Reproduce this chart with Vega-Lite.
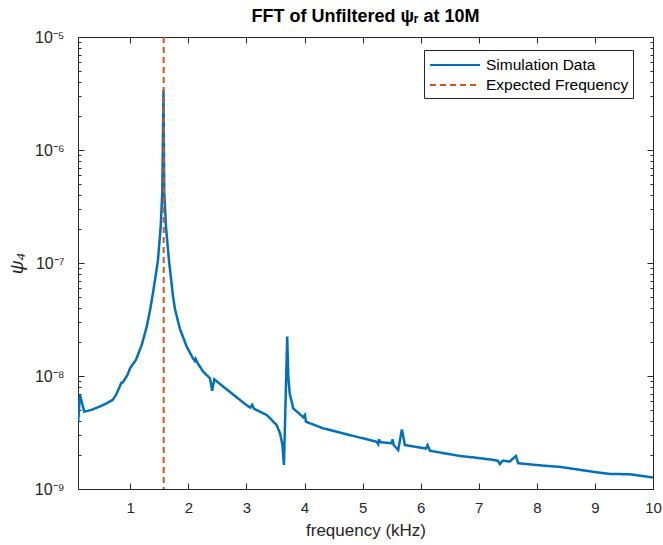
{
  "$schema": "https://vega.github.io/schema/vega-lite/v6.json",
  "width": 575,
  "height": 452,
  "autosize": {"type": "none"},
  "padding": {"left": 78, "top": 37, "right": 10, "bottom": 56},
  "background": "white",
  "title": {"text": "FFT of Unfiltered ψᵣ at 10M", "fontSize": 18, "fontWeight": "bold", "color": "#000000", "anchor": "middle", "offset": 3, "font": "Liberation Sans"},
  "datasets": {
    "sim": [
      {"f": 0.1, "v": 4.1e-9, "series": "Simulation Data"},
      {"f": 0.105, "v": 4.08e-9, "series": "Simulation Data"},
      {"f": 0.134, "v": 6.79e-9, "series": "Simulation Data"},
      {"f": 0.208, "v": 4.83e-9, "series": "Simulation Data"},
      {"f": 0.33, "v": 5.01e-9, "series": "Simulation Data"},
      {"f": 0.467, "v": 5.35e-9, "series": "Simulation Data"},
      {"f": 0.58, "v": 5.69e-9, "series": "Simulation Data"},
      {"f": 0.697, "v": 6.14e-9, "series": "Simulation Data"},
      {"f": 0.754, "v": 6.79e-9, "series": "Simulation Data"},
      {"f": 0.82, "v": 8.1e-9, "series": "Simulation Data"},
      {"f": 0.845, "v": 8.7e-9, "series": "Simulation Data"},
      {"f": 0.87, "v": 8.75e-9, "series": "Simulation Data"},
      {"f": 0.95, "v": 1.02e-8, "series": "Simulation Data"},
      {"f": 1.0, "v": 1.18e-8, "series": "Simulation Data"},
      {"f": 1.098, "v": 1.39e-8, "series": "Simulation Data"},
      {"f": 1.2, "v": 1.9e-8, "series": "Simulation Data"},
      {"f": 1.282, "v": 2.72e-8, "series": "Simulation Data"},
      {"f": 1.34, "v": 3.8e-8, "series": "Simulation Data"},
      {"f": 1.391, "v": 5.43e-8, "series": "Simulation Data"},
      {"f": 1.44, "v": 7.9e-8, "series": "Simulation Data"},
      {"f": 1.477, "v": 1.06e-7, "series": "Simulation Data"},
      {"f": 1.523, "v": 2.08e-7, "series": "Simulation Data"},
      {"f": 1.551, "v": 4.16e-7, "series": "Simulation Data"},
      {"f": 1.572, "v": 3.4e-6, "series": "Simulation Data"},
      {"f": 1.585, "v": 4.2e-7, "series": "Simulation Data"},
      {"f": 1.615, "v": 2.08e-7, "series": "Simulation Data"},
      {"f": 1.666, "v": 1.06e-7, "series": "Simulation Data"},
      {"f": 1.735, "v": 5.1e-8, "series": "Simulation Data"},
      {"f": 1.77, "v": 3.9e-8, "series": "Simulation Data"},
      {"f": 1.856, "v": 2.6e-8, "series": "Simulation Data"},
      {"f": 1.971, "v": 1.82e-8, "series": "Simulation Data"},
      {"f": 2.08, "v": 1.43e-8, "series": "Simulation Data"},
      {"f": 2.11, "v": 1.36e-8, "series": "Simulation Data"},
      {"f": 2.125, "v": 1.42e-8, "series": "Simulation Data"},
      {"f": 2.16, "v": 1.3e-8, "series": "Simulation Data"},
      {"f": 2.257, "v": 1.09e-8, "series": "Simulation Data"},
      {"f": 2.372, "v": 9.55e-9, "series": "Simulation Data"},
      {"f": 2.411, "v": 7.41e-9, "series": "Simulation Data"},
      {"f": 2.446, "v": 9.35e-9, "series": "Simulation Data"},
      {"f": 2.659, "v": 7.62e-9, "series": "Simulation Data"},
      {"f": 2.97, "v": 5.69e-9, "series": "Simulation Data"},
      {"f": 3.02, "v": 5.43e-9, "series": "Simulation Data"},
      {"f": 3.07, "v": 5.25e-9, "series": "Simulation Data"},
      {"f": 3.1, "v": 5.56e-9, "series": "Simulation Data"},
      {"f": 3.13, "v": 5.13e-9, "series": "Simulation Data"},
      {"f": 3.348, "v": 4.52e-9, "series": "Simulation Data"},
      {"f": 3.405, "v": 4.23e-9, "series": "Simulation Data"},
      {"f": 3.52, "v": 3.68e-9, "series": "Simulation Data"},
      {"f": 3.58, "v": 3.1e-9, "series": "Simulation Data"},
      {"f": 3.62, "v": 2.45e-9, "series": "Simulation Data"},
      {"f": 3.646, "v": 1.63e-9, "series": "Simulation Data"},
      {"f": 3.702, "v": 2.23e-8, "series": "Simulation Data"},
      {"f": 3.72, "v": 1.0e-8, "series": "Simulation Data"},
      {"f": 3.745, "v": 7.0e-9, "series": "Simulation Data"},
      {"f": 3.806, "v": 5.18e-9, "series": "Simulation Data"},
      {"f": 3.978, "v": 4.31e-9, "series": "Simulation Data"},
      {"f": 4.007, "v": 4.52e-9, "series": "Simulation Data"},
      {"f": 4.024, "v": 3.94e-9, "series": "Simulation Data"},
      {"f": 4.322, "v": 3.44e-9, "series": "Simulation Data"},
      {"f": 4.897, "v": 2.9e-9, "series": "Simulation Data"},
      {"f": 5.241, "v": 2.62e-9, "series": "Simulation Data"},
      {"f": 5.269, "v": 2.49e-9, "series": "Simulation Data"},
      {"f": 5.286, "v": 2.75e-9, "series": "Simulation Data"},
      {"f": 5.3, "v": 2.6e-9, "series": "Simulation Data"},
      {"f": 5.499, "v": 2.54e-9, "series": "Simulation Data"},
      {"f": 5.517, "v": 2.75e-9, "series": "Simulation Data"},
      {"f": 5.535, "v": 2.45e-9, "series": "Simulation Data"},
      {"f": 5.613, "v": 2.21e-9, "series": "Simulation Data"},
      {"f": 5.677, "v": 3.37e-9, "series": "Simulation Data"},
      {"f": 5.728, "v": 2.45e-9, "series": "Simulation Data"},
      {"f": 6.09, "v": 2.28e-9, "series": "Simulation Data"},
      {"f": 6.12, "v": 2.45e-9, "series": "Simulation Data"},
      {"f": 6.158, "v": 2.18e-9, "series": "Simulation Data"},
      {"f": 6.675, "v": 1.96e-9, "series": "Simulation Data"},
      {"f": 6.962, "v": 1.89e-9, "series": "Simulation Data"},
      {"f": 7.248, "v": 1.81e-9, "series": "Simulation Data"},
      {"f": 7.33, "v": 1.78e-9, "series": "Simulation Data"},
      {"f": 7.363, "v": 1.66e-9, "series": "Simulation Data"},
      {"f": 7.41, "v": 1.78e-9, "series": "Simulation Data"},
      {"f": 7.535, "v": 1.75e-9, "series": "Simulation Data"},
      {"f": 7.639, "v": 1.96e-9, "series": "Simulation Data"},
      {"f": 7.679, "v": 1.69e-9, "series": "Simulation Data"},
      {"f": 8.109, "v": 1.61e-9, "series": "Simulation Data"},
      {"f": 8.396, "v": 1.57e-9, "series": "Simulation Data"},
      {"f": 8.969, "v": 1.42e-9, "series": "Simulation Data"},
      {"f": 9.256, "v": 1.36e-9, "series": "Simulation Data"},
      {"f": 9.601, "v": 1.35e-9, "series": "Simulation Data"},
      {"f": 9.974, "v": 1.27e-9, "series": "Simulation Data"},
      {"f": 10.0, "v": 1.26e-9, "series": "Simulation Data"}
    ],
    "expected": [
      {"f": 1.575, "series": "Expected Frequency"}
    ]
  },
  "layer": [
    {
      "data": {"name": "sim"},
      "mark": {"type": "line", "strokeWidth": 2.5, "clip": true},
      "encoding": {
        "x": {"field": "f", "type": "quantitative", "scale": {"domain": [0.1, 10], "nice": false, "zero": false},
          "axis": {"orient": "bottom", "values": [1,2,3,4,5,6,7,8,9,10], "title": "frequency (kHz)", "tickSize": -6, "labelPadding": 17, "labelFontSize": 15, "titleFontSize": 17, "titlePadding": 7, "labelFlush": false}},
        "y": {"field": "v", "type": "quantitative", "scale": {"type": "log", "domain": [1e-9, 1e-5], "nice": false},
          "axis": {"orient": "left", "title": "ψ₄", "titleFontSize": 19, "titleFontStyle": "italic", "titleAngle": -90, "titlePadding": 8, "labelFontSize": 16, "labelPadding": 20,
            "values": [1e-9,2e-9,3e-9,4e-9,5e-9,6e-9,7e-9,8e-9,9e-9,1e-8,2e-8,3e-8,4e-8,5e-8,6e-8,7e-8,8e-8,9e-8,1e-7,2e-7,3e-7,4e-7,5e-7,6e-7,7e-7,8e-7,9e-7,1e-6,2e-6,3e-6,4e-6,5e-6,6e-6,7e-6,8e-6,9e-6,1e-5],
            "labelExpr": "abs(log(datum.value)/LN10 + 5) < 0.01 ? '10⁻⁵' : abs(log(datum.value)/LN10 + 6) < 0.01 ? '10⁻⁶' : abs(log(datum.value)/LN10 + 7) < 0.01 ? '10⁻⁷' : abs(log(datum.value)/LN10 + 8) < 0.01 ? '10⁻⁸' : abs(log(datum.value)/LN10 + 9) < 0.01 ? '10⁻⁹' : ''",
            "tickSize": {"condition": {"test": "abs(log(datum.value)/LN10 - round(log(datum.value)/LN10)) < 0.01", "value": -6}, "value": -3},
            "labelFlush": false, "labelOverlap": false}},
        "color": {"field": "series", "type": "nominal", "scale": {"domain": ["Simulation Data", "Expected Frequency"], "range": ["#0072BD", "#D95319"]},
          "legend": {"title": null, "orient": "none", "legendX": 346, "legendY": 13, "strokeColor": "#262626", "fillColor": "white", "padding": 4, "symbolType": "M-2.5,0H2.5", "symbolSize": 400, "symbolStrokeWidth": 2, "symbolFillColor": "transparent", "symbolOffset": 16, "labelFontSize": 15.5, "labelColor": "#000000", "labelOffset": 20, "rowPadding": 0}},
        "strokeDash": {"field": "series", "type": "nominal", "scale": {"domain": ["Simulation Data", "Expected Frequency"], "range": [[1, 0], [6, 4]]}}
      }
    },
    {
      "data": {"name": "expected"},
      "mark": {"type": "rule", "strokeWidth": 2},
      "encoding": {
        "x": {"field": "f", "type": "quantitative", "axis": null},
        "color": {"field": "series", "type": "nominal"},
        "strokeDash": {"field": "series", "type": "nominal"}
      }
    },
    {
      "data": {"name": "sim"},
      "mark": {"type": "line", "opacity": 0},
      "encoding": {
        "x": {"field": "f", "type": "quantitative", "axis": {"orient": "top", "values": [1,2,3,4,5,6,7,8,9,10], "labels": false, "title": null, "tickSize": -6}},
        "y": {"field": "v", "type": "quantitative", "axis": {"orient": "right", "labels": false, "title": null,
          "values": [1e-9,2e-9,3e-9,4e-9,5e-9,6e-9,7e-9,8e-9,9e-9,1e-8,2e-8,3e-8,4e-8,5e-8,6e-8,7e-8,8e-8,9e-8,1e-7,2e-7,3e-7,4e-7,5e-7,6e-7,7e-7,8e-7,9e-7,1e-6,2e-6,3e-6,4e-6,5e-6,6e-6,7e-6,8e-6,9e-6,1e-5],
          "tickSize": {"condition": {"test": "abs(log(datum.value)/LN10 - round(log(datum.value)/LN10)) < 0.01", "value": -6}, "value": -3}}}
      }
    }
  ],
  "resolve": {"axis": {"x": "independent", "y": "independent"}},
  "config": {
    "font": "Liberation Sans",
    "view": {"stroke": "#262626", "strokeWidth": 1},
    "axis": {"grid": false, "domainColor": "#262626", "tickColor": "#262626", "labelColor": "#262626", "titleColor": "#262626", "titleFontWeight": "normal", "domainWidth": 1, "tickWidth": 1, "labelFont": "Liberation Sans", "titleFont": "Liberation Sans"},
    "legend": {"labelFont": "Liberation Sans"}
  }
}
